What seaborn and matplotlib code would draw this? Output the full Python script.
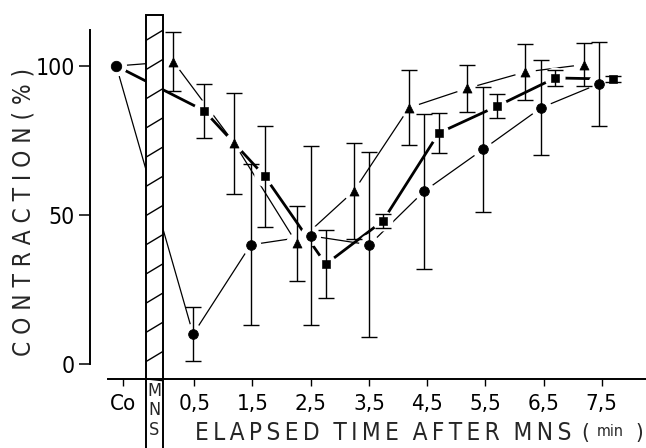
import numpy as np
import pandas as pd
import matplotlib
matplotlib.use("Agg")
import matplotlib.pyplot as plt
import seaborn as sns
from matplotlib.patches import Rectangle

'''DATA (read off the figure)'''
co_x = -0.84
co_y = 100
co_tick = -0.72

circle_x = [0.48, 1.47, 2.50, 3.51, 4.45, 5.46, 6.46, 7.45]
circle_y = [10, 40, 43, 40, 58, 72, 86, 94]
circle_err = [9, 27, 30, 31, 26, 21, 16, 14]

square_x = [0.67, 1.71, 2.76, 3.74, 4.70, 5.70, 6.70, 7.70]
square_y = [85, 63, 33.5, 48, 77.5, 86.5, 96, 95.6]
square_err = [9, 17, 11.5, 2.4, 6.7, 4.1, 2.7, 1.0]

triangle_x = [0.14, 1.19, 2.26, 3.24, 4.19, 5.19, 6.19, 7.20]
triangle_y = [101.5, 74, 40.5, 58, 86, 92.5, 98, 100.5]
triangle_err = [10, 17, 12.5, 16, 12.5, 8, 9.5, 7.3]

xtick_pos = [co_tick, 0.5, 1.5, 2.5, 3.5, 4.5, 5.5, 6.5, 7.5]
xtick_labels = ["Co", "0,5", "1,5", "2,5", "3,5", "4,5", "5,5", "6,5", "7,5"]
ytick_pos = [0, 50, 100]

'''STYLE'''
sns.set_style("ticks")
plt.rcParams['font.family'] = ['DejaVu Sans']
plt.rcParams['font.stretch'] = 'condensed'

fig = plt.figure(figsize=(6.46, 4.48), dpi=100)
ax = fig.add_axes([0, 0, 1, 1])
ax.set_xlim(-2.838, 8.261)
ax.set_ylim(-28.19, 122.15)

'''SERIES'''
series = [
    (circle_x, circle_y, circle_err, "o", 7, 0.9),
    (triangle_x, triangle_y, triangle_err, "^", 6.5, 0.9),
    (square_x, square_y, square_err, "s", 5.5, 2.0),
]

for xs, ys, errs, mk, ms, lw in series:
    df = pd.DataFrame({"x": [co_x] + xs, "y": [co_y] + ys})
    sns.lineplot(data=df, x="x", y="y", sort=False, color="black",
                 lw=lw, ax=ax)
    ax.lines[-1].set_zorder(1)

# white halos so the connecting lines stop short of the markers
for xs, ys, errs, mk, ms, lw in series:
    sns.scatterplot(x=[co_x] + xs, y=[co_y] + ys, marker="o", s=15 ** 2,
                    color="white", edgecolor="none", linewidth=0, ax=ax,
                    zorder=2)

for xs, ys, errs, mk, ms, lw in series:
    ax.errorbar(xs, ys, yerr=errs, fmt="none", ecolor="black",
                elinewidth=1.0, capsize=6, capthick=1.0, zorder=3)
    sns.scatterplot(x=xs, y=ys, marker=mk, s=ms ** 2, color="black",
                    edgecolor="black", ax=ax, zorder=4)

sns.scatterplot(x=[co_x], y=[co_y], marker="o", s=7.5 ** 2, color="black",
                edgecolor="black", ax=ax, zorder=4)

'''MNS BAR'''
bx0, bx1 = -0.33, -0.04
bar = Rectangle((bx0, -30), bx1 - bx0, 147, fc="white", ec="black",
                lw=1.4, zorder=5)
ax.add_patch(bar)
for yk in np.arange(-9, 120, 9.8):
    ln, = ax.plot([bx0, bx1], [max(yk, -5), yk + 3.4], color="black",
                  lw=1.0, zorder=5.5)
    ln.set_clip_path(bar)
ax.text((bx0 + bx1) / 2, -6.0, "M\nN\nS", ha="center", va="top",
        fontsize=13, linespacing=1.1, zorder=6)

'''AXES'''
for s in ["top", "right"]:
    ax.spines[s].set_visible(False)
ax.spines["left"].set_position(("data", -1.29))
ax.spines["left"].set_bounds(0, 112)
ax.spines["bottom"].set_position(("data", -5))
ax.spines["bottom"].set_bounds(-0.98, 8.3)
ax.spines["bottom"].set_zorder(6)
for s in ["left", "bottom"]:
    ax.spines[s].set_linewidth(1.4)
    ax.spines[s].set_color("black")

ax.set_yticks(ytick_pos)
ax.set_yticklabels([str(v) for v in ytick_pos])
ax.set_xticks(xtick_pos)
ax.set_xticklabels(xtick_labels)
ax.tick_params(axis="y", direction="out", length=8, width=1.1,
               labelsize=16.5, pad=3, colors="black")
ax.tick_params(axis="x", direction="out", length=5, width=1.0,
               labelsize=16, pad=6, colors="black")
ax.set_xlabel("")
ax.set_ylabel("")

ax.text(-2.44, 51, "C O N T R A C T I O N ( % )", rotation=90,
        ha="center", va="center", fontsize=17.5)
ax.text(0.52, -23.2,
        "E\u2009L\u2009A\u2009P\u2009S\u2009E\u2009D  T\u2009I\u2009M\u2009E  "
        "A\u2009F\u2009T\u2009E\u2009R  M\u2009N\u2009S",
        ha="left", va="center", fontsize=17.5)
ax.text(7.21, -23.2, "(", ha="center", va="center", fontsize=16)
ax.text(7.64, -22.6, "min", ha="center", va="center", fontsize=11.5)
ax.text(8.14, -23.2, ")", ha="center", va="center", fontsize=16)

fig.savefig("out.png", dpi=100)
